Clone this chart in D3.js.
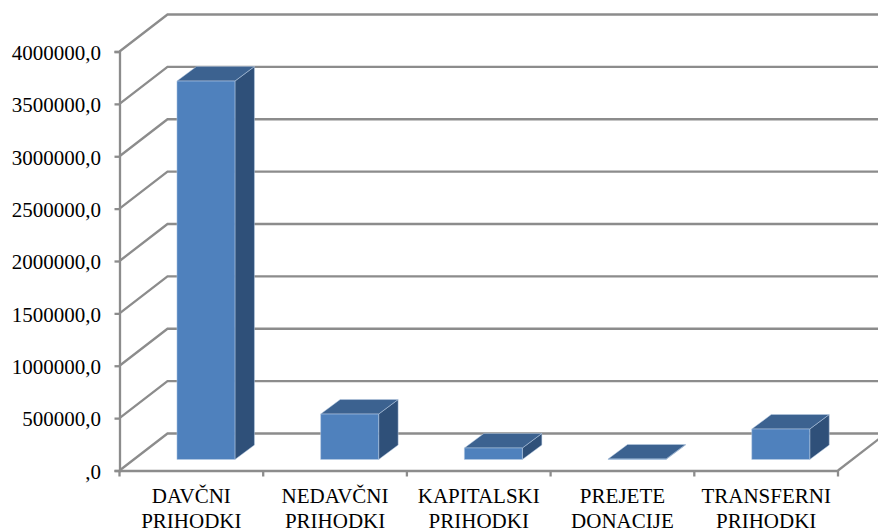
<!DOCTYPE html>
<html>
<head>
<meta charset="utf-8">
<script src="https://cdn.jsdelivr.net/npm/d3@7"></script>
<style>
  html, body { margin: 0; padding: 0; background: #fff; overflow: hidden; }
  svg { display: block; }
  text { font-family: "Liberation Serif", serif; fill: #000; }
</style>
</head>
<body>
<div id="chart"></div>
<script>
// data
const categories = ["DAVČNI", "NEDAVČNI", "KAPITALSKI", "PREJETE", "TRANSFERNI"];
const categories2 = ["PRIHODKI", "PRIHODKI", "PRIHODKI", "DONACIJE", "PRIHODKI"];
const values = [3613000, 434000, 110000, 5000, 291000];
const yTicks = [0, 500000, 1000000, 1500000, 2000000, 2500000, 3000000, 3500000, 4000000];

// constants
const width = 878;
const height = 528;
const margin = { top: 51.5, right: 40, bottom: 57.5, left: 119.5 };
const wall = { dx: 48, dy: -37 };     // depth of the 3d box
const barDepth = { dx: 19.5, dy: -14.5 };
const barWidth = 58;
const lift = { dx: 14.6, dy: -11 };   // where bars stand on the floor
const gray = "#8c8c8c";

const svg = d3.select("#chart").append("svg")
  .attr("width", width)
  .attr("height", height);

// SCALES
const xScale = d3.scaleBand()
  .domain(categories)
  .range([margin.left, width - margin.right]);

const yScale = d3.scaleLinear()
  .domain([0, 4000000])
  .range([height - margin.bottom, margin.top]);

const bottom = yScale(0);
const right = xScale.range()[1];

// walls: back lines + side diagonals
const grid = svg.append("g").attr("fill", "none").attr("stroke", gray).attr("stroke-width", 2.3);
grid.selectAll("path")
  .data(yTicks)
  .join("path")
  .attr("d", d => `M${margin.left},${yScale(d)}L${margin.left + wall.dx},${yScale(d) + wall.dy}L${right + wall.dx},${yScale(d) + wall.dy}`);

// floor edge on the right
grid.append("path")
  .attr("d", `M${right},${bottom}L${right + wall.dx},${bottom + wall.dy}`);

// axes
const yAxis = d3.axisLeft(yScale)
  .tickValues(yTicks)
  .tickSize(5)
  .tickPadding(13.5)
  .tickFormat(d => (d === 0 ? "" : d) + ",0");

const xAxis = d3.axisBottom(xScale)
  .tickSize(0)
  .tickPadding(18)
  .tickFormat(d => d);

const yG = svg.append("g")
  .attr("transform", `translate(${margin.left},0)`)
  .call(yAxis);
const xG = svg.append("g")
  .attr("transform", `translate(0,${bottom})`)
  .call(xAxis);

[yG, xG].forEach(g => {
  g.selectAll(".domain, line").attr("stroke", gray).attr("stroke-width", 2.3);
  g.selectAll("text").attr("fill", "#000").style("font-size", "21px").style("font-family", '"Liberation Serif", serif');
});
yG.selectAll("text").attr("dy", "0.37em");

// second row of the category labels
xG.selectAll(".tick text")
  .append("tspan")
  .attr("x", 0)
  .attr("dy", 25)
  .text((d, i) => categories2[i]);

// ticks between categories
xG.selectAll("line.edge")
  .data(categories.map(d => xScale(d)).concat(right))
  .join("line")
  .attr("class", "edge")
  .attr("x1", d => d).attr("x2", d => d)
  .attr("y1", 0).attr("y2", 6)
  .attr("stroke", gray).attr("stroke-width", 2.3);

// bars
const bars = svg.append("g").selectAll("g")
  .data(categories.map((c, i) => ({ c, v: values[i] })))
  .join("g")
  .attr("stroke", "#b9cde5").attr("stroke-width", 0.5).attr("stroke-linejoin", "round");

const bx = d => xScale(d.c) + (xScale.bandwidth() - barWidth) / 2 + lift.dx;
const by0 = bottom + lift.dy;
const by1 = d => yScale(d.v) + lift.dy;

// side
bars.append("path")
  .attr("fill", "#2f5079")
  .attr("d", d => `M${bx(d) + barWidth},${by1(d)}l${barDepth.dx},${barDepth.dy}L${bx(d) + barWidth + barDepth.dx},${by0 + barDepth.dy}L${bx(d) + barWidth},${by0}Z`);
// top
bars.append("path")
  .attr("fill", "#3c6290")
  .attr("d", d => `M${bx(d)},${by1(d)}l${barDepth.dx},${barDepth.dy}h${barWidth}l${-barDepth.dx},${-barDepth.dy}Z`);
// front
bars.append("rect")
  .attr("fill", "#4f81bd")
  .attr("x", bx)
  .attr("y", by1)
  .attr("width", barWidth)
  .attr("height", d => by0 - by1(d));
</script>
</body>
</html>
